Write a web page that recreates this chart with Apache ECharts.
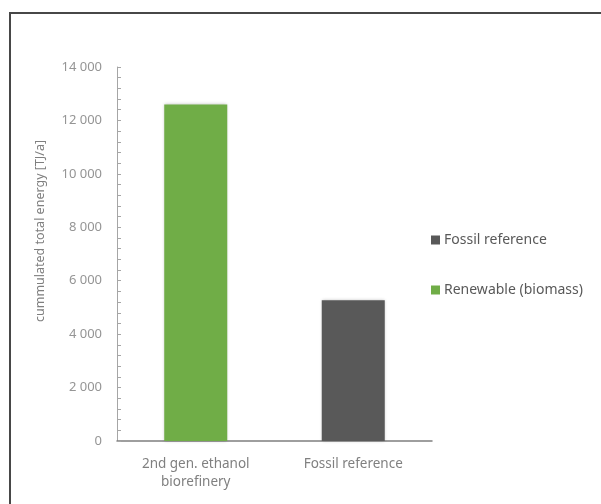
<!DOCTYPE html>
<html>
<head>
<meta charset="utf-8">
<script src="https://cdn.jsdelivr.net/npm/echarts@6/dist/echarts.min.js"></script>
<style>
  html, body { margin: 0; padding: 0; background: #ffffff; }
  #chart { width: 601px; height: 504px; }
</style>
</head>
<body>
<div id="chart"></div>
<script>
// Cumulated total energy per system (TJ/a)
const categories = ['2nd gen. ethanol\nbiorefinery', 'Fossil reference'];
const renewableValues = [12600, '-'];
const fossilValues = ['-', 5270];
const seriesNames = ['Renewable (biomass)', 'Fossil reference'];
const legendOrder = ['Fossil reference', 'Renewable (biomass)'];
const yTicks = { min: 0, max: 14000, interval: 2000 };
const yTitle = 'cummulated total energy [TJ/a]';

const FONT = 'Noto Sans';
const chart = echarts.init(document.getElementById('chart'), null, { renderer: 'canvas' });

const barShadow = { shadowBlur: 3, shadowColor: 'rgba(0,0,0,0.22)', shadowOffsetX: 0, shadowOffsetY: 0 };

chart.setOption({
  animation: false,
  backgroundColor: '#ffffff',
  textStyle: { fontFamily: FONT },
  grid: { left: 117, right: 169, top: 67, bottom: 63 },
  legend: {
    orient: 'vertical',
    left: 426,
    top: 228,
    itemWidth: 9,
    itemHeight: 9,
    itemGap: 36,
    icon: 'rect',
    data: legendOrder,
    textStyle: { fontFamily: FONT, fontSize: 14, color: '#595959', padding: [0, 0, 0, -1] }
  },
  xAxis: {
    type: 'category',
    data: categories,
    axisLine: { lineStyle: { color: '#7f7f7f', width: 1.5 } },
    axisTick: { show: false },
    axisLabel: { fontFamily: FONT, fontSize: 13.5, color: '#808080', margin: 14, lineHeight: 18 }
  },
  yAxis: {
    type: 'value',
    min: yTicks.min,
    max: yTicks.max,
    interval: yTicks.interval,
    axisLine: { show: true, lineStyle: { color: '#a6a6a6', width: 1 } },
    axisTick: { show: true, inside: true, length: 4, lineStyle: { color: '#a6a6a6' } },
    minorTick: { show: true, splitNumber: 5, length: 4, lineStyle: { color: '#a6a6a6' } },
    splitLine: { show: false },
    axisLabel: {
      fontFamily: FONT, fontSize: 13, color: '#959595', margin: 15,
      formatter: v => v === 0 ? '0' : String(v).replace(/\B(?=(\d{3})+(?!\d))/g, ' ')
    }
  },
  series: [
    {
      name: seriesNames[0],
      type: 'bar',
      stack: 'total',
      barWidth: '40%',
      data: renewableValues,
      itemStyle: Object.assign({ color: '#70ad47' }, barShadow)
    },
    {
      name: seriesNames[1],
      type: 'bar',
      stack: 'total',
      barWidth: '40%',
      data: fossilValues,
      itemStyle: Object.assign({ color: '#595959' }, barShadow)
    }
  ],
  graphic: [
    {
      type: 'rect',
      shape: { x: 10, y: 13, width: 700, height: 600 },
      style: { fill: 'none', stroke: '#474747', lineWidth: 2 },
      silent: true
    },
    {
      type: 'text',
      x: 40,
      y: 231,
      rotation: Math.PI / 2,
      style: {
        text: yTitle,
        fontFamily: FONT,
        fontSize: 12.5,
        fill: '#7f7f7f',
        align: 'center',
        verticalAlign: 'middle'
      }
    }
  ]
});
</script>
</body>
</html>
